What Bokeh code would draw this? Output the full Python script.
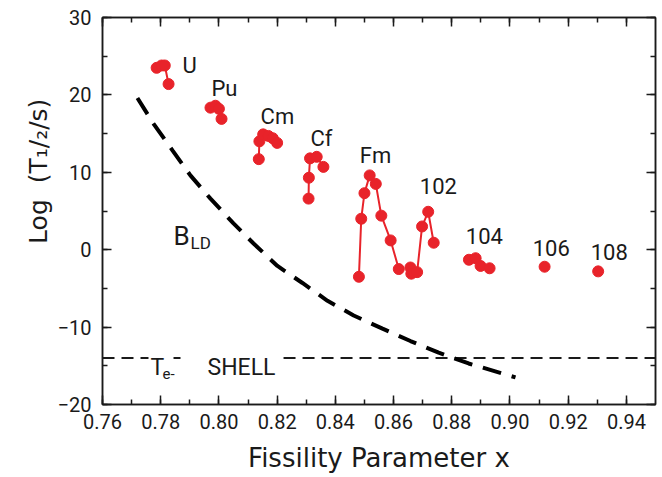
from bokeh.plotting import figure
from bokeh.models import (ColumnDataSource, Label, LinearAxis, SingleIntervalTicker,
                          PrintfTickFormatter, CustomJSTickFormatter)
from bokeh.core.properties import value
from bokeh.embed import file_html
from bokeh.resources import INLINE

FONT = "Roboto"
TFONT = "DejaVu Sans"

# ---------------- data ----------------
u_x = [0.7786, 0.7803, 0.7814, 0.7827]
u_y = [23.5, 23.8, 23.8, 21.4]
pu_x = [0.7971, 0.7988, 0.8000, 0.8009]
pu_y = [18.35, 18.6, 18.2, 16.9]
cm_x = [0.8137, 0.8139, 0.8152, 0.8170, 0.8185, 0.8200]
cm_y = [11.7, 14.0, 14.9, 14.7, 14.4, 13.8]
cf_x = [0.8308, 0.8309, 0.8313, 0.8336, 0.8359]
cf_y = [6.6, 9.3, 11.8, 12.0, 10.7]
fm_x = [0.8481, 0.8489, 0.8500, 0.8518, 0.8539, 0.8558, 0.8590, 0.8618]
fm_y = [-3.5, 4.0, 7.3, 9.6, 8.5, 4.4, 1.2, -2.5]
no_x = [0.8658, 0.8661, 0.8681, 0.8698, 0.8719, 0.8738]
no_y = [-2.3, -3.1, -2.9, 3.0, 4.9, 0.9]
rf_x = [0.8859, 0.8882, 0.8899, 0.8930]
rf_y = [-1.3, -1.1, -2.1, -2.4]
sg_x = [0.9119]
sg_y = [-2.2]
hs_x = [0.9303]
hs_y = [-2.8]

series = [(u_x, u_y), (pu_x, pu_y), (cm_x, cm_y), (cf_x, cf_y), (fm_x, fm_y),
          (no_x, no_y), (rf_x, rf_y), (sg_x, sg_y), (hs_x, hs_y)]

elem_names = ["U", "Pu", "Cm", "Cf", "Fm", "102", "104", "106", "108"]
elem_lx = [0.7899, 0.8019, 0.8201, 0.8352, 0.8538, 0.8754, 0.8912, 0.9142, 0.9341]
elem_ly = [23.77, 20.8, 17.18, 14.34, 12.14, 8.27, 1.81, 0.26, -0.26]

bld_x = [0.7720, 0.7775, 0.7841, 0.7902, 0.7971, 0.8050, 0.8119, 0.8201, 0.8287,
         0.8373, 0.8463, 0.8562, 0.8658, 0.8755, 0.8858, 0.9019]
bld_y = [19.6, 16.3, 12.8, 9.6, 6.6, 3.4, 0.8, -2.1, -4.3, -6.6, -8.5, -10.2,
         -11.8, -13.3, -14.7, -16.5]

shell_y = -14.0
shell_segments = [(0.7600, 0.7758), (0.7844, 0.7868), (0.8222, 0.9500)]

x_title = "Fissility Parameter x"
y_title = "\u00a0" * 10 + "Log\u00a0\u00a0(T\u2081/\u2082/s)"

# ---------------- figure ----------------
X0, X1, Y0, Y1 = 0.76, 0.95, -20.0, 30.0
W, H = 662, 477
FL, FR, FT, FB = 102, 655, 17, 404


def px2x(px):
    return X0 + (px - FL) / (FR - FL) * (X1 - X0)


def py2y(py):
    return Y1 - (py - FT) / (FB - FT) * (Y1 - Y0)


p = figure(width=W, height=H, x_range=(X0, X1), y_range=(Y0, Y1),
           output_backend="svg", toolbar_location=None,
           min_border_left=FL, min_border_right=W - FR,
           min_border_top=FT, min_border_bottom=H - FB,
           x_axis_type=None, y_axis_type=None)
p.xgrid.visible = False
p.ygrid.visible = False
p.outline_line_color = "#1a1a1a"
p.outline_line_width = 1.5
p.background_fill_color = "white"
p.border_fill_color = "white"


def make_axis(ticker, visible_labels):
    ax = LinearAxis(ticker=ticker)
    ax.major_tick_in = 9
    ax.major_tick_out = 0
    ax.minor_tick_in = 5
    ax.minor_tick_out = 0
    ax.axis_line_color = "#1a1a1a"
    ax.axis_line_width = 1.5
    ax.major_tick_line_color = "#1a1a1a"
    ax.major_tick_line_width = 1.5
    ax.minor_tick_line_color = "#1a1a1a"
    ax.minor_tick_line_width = 1.5
    ax.major_label_text_font = FONT
    ax.major_label_text_color = "#1a1a1a"
    ax.major_label_text_font_size = "20px"
    if not visible_labels:
        ax.formatter = CustomJSTickFormatter(code="return ''")
        ax.major_label_text_font_size = "1px"
        ax.major_label_standoff = 0
    return ax


xb = make_axis(SingleIntervalTicker(interval=0.02, num_minor_ticks=2), True)
xb.formatter = PrintfTickFormatter(format="%.2f")
xb.major_label_standoff = 9
xb.axis_label = x_title
xb.axis_label_text_font = TFONT
xb.axis_label_text_font_size = "26px"
xb.axis_label_text_font_style = "normal"
xb.axis_label_text_color = "#1a1a1a"
xb.axis_label_standoff = 11
p.add_layout(xb, "below")

xt = make_axis(SingleIntervalTicker(interval=0.02, num_minor_ticks=2), False)
p.add_layout(xt, "above")

yl = make_axis(SingleIntervalTicker(interval=10, num_minor_ticks=2), True)
yl.major_label_standoff = 11
yl.axis_label = y_title
yl.axis_label_text_font = TFONT
yl.axis_label_text_font_size = "25px"
yl.axis_label_text_font_style = "normal"
yl.axis_label_text_color = "#1a1a1a"
yl.axis_label_standoff = 2
p.add_layout(yl, "left")

yr = make_axis(SingleIntervalTicker(interval=10, num_minor_ticks=2), False)
p.add_layout(yr, "right")

# T_e- shell line
for a, b in shell_segments:
    p.line([a, b], [shell_y, shell_y], line_color="#1a1a1a", line_width=2,
           line_dash="12 7")

# B_LD curve
p.line(bld_x, bld_y, line_color="black", line_width=4, line_dash="19 11")

# data series
RED = "#e8232a"
for xs, ys in series:
    p.line(xs, ys, line_color=RED, line_width=2)
    p.scatter(xs, ys, size=11, fill_color=RED, line_color=RED)

# element labels
src = ColumnDataSource(dict(x=elem_lx, y=elem_ly, t=elem_names))
p.text(x="x", y="y", text="t", source=src, text_font=value(FONT),
       text_font_size="22px", text_align="center", text_baseline="alphabetic",
       text_color="#1a1a1a")


def lab(px, py, text, size, align="left"):
    p.add_layout(Label(x=px2x(px), y=py2y(py), text=text, text_font=FONT,
                       text_font_size=size, text_align=align,
                       text_baseline="alphabetic", text_color="#1a1a1a"))


# B_LD
lab(173, 235, "B", "26px")
lab(190, 242, "LD", "17px")
# Te- SHELL
lab(150, 367, "T", "23px")
lab(162, 373, "e-", "15px")
lab(207, 367, "SHELL", "23px")

open("out.html", "w").write(file_html(p, INLINE))
